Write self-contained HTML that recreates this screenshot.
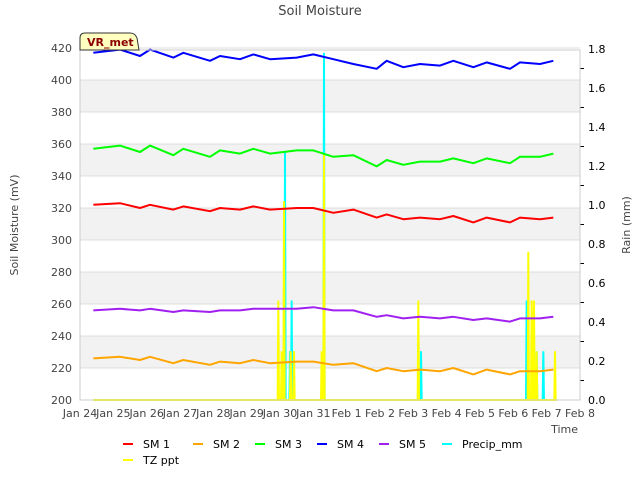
<!DOCTYPE html>
<html><head><meta charset="utf-8"><style>
body{margin:0;background:#fff;font-family:"Liberation Sans","DejaVu Sans",sans-serif}
svg text{font-family:"DejaVu Sans","Liberation Sans",sans-serif}
</style></head><body>
<svg id="c" width="640" height="480" xmlns="http://www.w3.org/2000/svg">
<rect width="640" height="480" fill="#fff"/>
<g id="bands"></g><g id="grid"></g><g id="series"></g><g id="axes"></g>
<text x="320" y="15" text-anchor="middle" font-size="13" fill="#444">Soil Moisture</text>
<text transform="translate(18,225) rotate(-90)" text-anchor="middle" font-size="11" fill="#444">Soil Moisture (mV)</text>
<text transform="translate(630,225) rotate(-90)" text-anchor="middle" font-size="11" fill="#444">Rain (mm)</text>
<text x="578" y="433" text-anchor="end" font-size="11" fill="#444">Time</text>
<g>
<path d="M80,50 L80,38 Q80,33 85,33 L130,33 Q135,33 137,38 L139,50 Z" fill="#ffffc0" stroke="#333" stroke-width="1"/>
<text x="87" y="46" font-size="11" font-weight="bold" fill="#8b0000">VR_met</text></g>
<g id="legend"></g>
</svg>
<script>
const tDays=[0.4,1.2,1.8,2.1,2.8,3.1,3.9,4.2,4.8,5.2,5.7,6.5,7.0,7.6,8.2,8.9,9.2,9.7,10.2,10.8,11.2,11.8,12.2,12.9,13.2,13.8,14.2];
const sm1=[322,323,320,322,319,321,318,320,319,321,319,320,320,317,319,314,316,313,314,313,315,311,314,311,314,313,314];
const sm2=[226,227,225,227,223,225,222,224,223,225,223,224,224,222,223,218,220,218,219,218,220,216,219,216,218,218,219];
const sm3=[357,359,355,359,353,357,352,356,354,357,354,356,356,352,353,346,350,347,349,349,351,348,351,348,352,352,354];
const sm4=[417,419,415,419,414,417,412,415,413,416,413,414,416,413,410,407,412,408,410,409,412,408,411,407,411,410,412];
const sm5=[256,257,256,257,255,256,255,256,256,257,257,257,258,256,256,252,253,251,252,251,252,250,251,249,251,251,252];
const precipT=[6.15,6.3,6.35,7.32,10.23,13.4,13.7,13.9];
const precipV=[1.27,0.25,0.51,1.78,0.25,0.51,0.25,0.25];
const tzT=[5.95,6.05,6.12,6.32,6.42,7.25,7.32,10.15,13.45,13.55,13.62,13.7,14.25];
const tzV=[0.51,0.25,1.02,0.25,0.25,0.25,1.26,0.51,0.76,0.51,0.51,0.25,0.25];
const xLabels=["Jan 24","Jan 25","Jan 26","Jan 27","Jan 28","Jan 29","Jan 30","Jan 31","Feb 1","Feb 2","Feb 3","Feb 4","Feb 5","Feb 6","Feb 7","Feb 8"];
const yTicks=[200,220,240,260,280,300,320,340,360,380,400,420];
const y2Ticks=[0,0.2,0.4,0.6,0.8,1.0,1.2,1.4,1.6,1.8];
const NS="http://www.w3.org/2000/svg";
const X=d=>80+d*500/15, Y=v=>400-(v-200)*1.6, Y2=v=>400-v*195;
function mk(tag,at,p){const e=document.createElementNS(NS,tag);for(const k in at)e.setAttribute(k,at[k]);document.getElementById(p).appendChild(e);return e;}
for(let i=0;i<yTicks.length-1;i++){if(i%2==1){const r=mk('rect',{x:80,y:Y(yTicks[i+1]),width:500,height:Y(yTicks[i])-Y(yTicks[i+1]),fill:'#f2f2f2'},'bands');

}}
yTicks.forEach(v=>{const l=mk('line',{x1:80,x2:580,y1:Y(v),y2:Y(v),stroke:'#dcdcdc'},'grid');


const t=mk('text',{x:72,y:Y(v)+4,'text-anchor':'end','font-size':11,fill:'#444'},'axes');t.textContent=v;

});
y2Ticks.forEach(v=>{const t=mk('text',{x:588,y:Y2(v)+4,'font-size':11,fill:'#000'},'axes');t.textContent=v.toFixed(1);

});
for(let v=0.1;v<1.8;v+=0.2){mk('line',{x1:580,x2:584,y1:Y2(v),y2:Y2(v),stroke:'#000'},'axes');}
xLabels.forEach((s,i)=>{const t=mk('text',{x:X(i),y:417,'text-anchor':'middle','font-size':11,fill:'#444'},'axes');t.textContent=s;

});
mk('rect',{x:80,y:50,width:500,height:350,fill:'none',stroke:'#ccc'},'axes');
function spikes(ts,vs,col,name){let pts=[[X(0.4),Y2(0)]];ts.forEach((t,i)=>{pts.push([X(t-0.02),Y2(0)],[X(t),Y2(vs[i])],[X(t+0.02),Y2(0)]);});pts.push([X(14.3),Y2(0)]);
const p=mk('polyline',{points:pts.map(p=>p.join(',')).join(' '),fill:'none',stroke:col,'stroke-width':2},'series');

}
function line(vs,col,name){const p=mk('polyline',{points:vs.map((v,i)=>X(tDays[i])+','+Y(v)).join(' '),fill:'none',stroke:col,'stroke-width':2,'stroke-linejoin':'round'},'series');

}
spikes(precipT,precipV,'#00ffff','precip-mm-series');
spikes(tzT,tzV,'#ffff00','tz-ppt-series');
line(sm1,'#ff0000','sm1-series');line(sm2,'#ffa500','sm2-series');line(sm3,'#00ff00','sm3-series');line(sm4,'#0000ff','sm4-series');line(sm5,'#a020f0','sm5-series');
const leg=[['SM 1','#ff0000',123,444],['SM 2','#ffa500',193,444],['SM 3','#00ff00',255,444],['SM 4','#0000ff',317,444],['SM 5','#a020f0',379,444],['Precip_mm','#00ffff',442,444],['TZ ppt','#ffff00',123,460]];
leg.forEach(e=>{const g=mk('g',{},'legend');


const l=document.createElementNS(NS,'line');l.setAttribute('x1',e[2]);l.setAttribute('x2',e[2]+10);l.setAttribute('y1',e[3]);l.setAttribute('y2',e[3]);l.setAttribute('stroke',e[1]);l.setAttribute('stroke-width',2);g.appendChild(l);
const t=document.createElementNS(NS,'text');t.setAttribute('x',e[2]+20);t.setAttribute('y',e[3]+4);t.setAttribute('font-size',11);t.setAttribute('fill','#000');t.textContent=e[0];g.appendChild(t);});
</script>
</body></html>
